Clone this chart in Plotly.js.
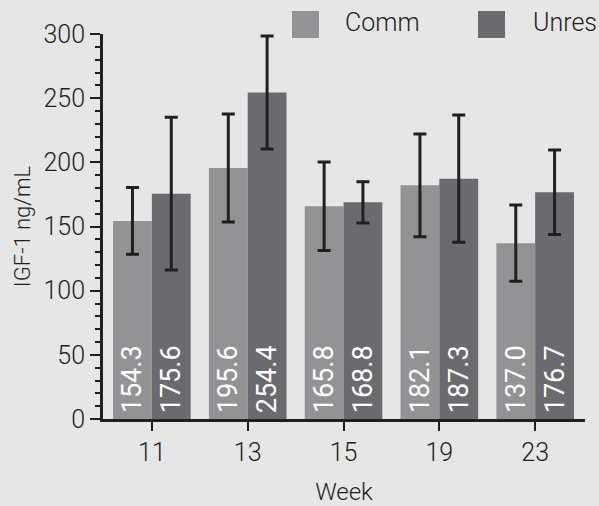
<!DOCTYPE html>
<html>
<head>
<meta charset="utf-8">
<script src="https://cdn.plot.ly/plotly-3.0.1.min.js"></script>
<style>html,body{margin:0;padding:0;background:#e6e6e6;}#chart{width:599px;height:506px;}</style>
</head>
<body>
<div id="chart"></div>
<script>
const weeks = ['11', '13', '15', '19', '23'];
const commValues = [154.3, 195.6, 165.8, 182.1, 137.0];
const commErrors = [26, 42, 34.5, 40, 29.7];
const unresValues = [175.6, 254.4, 168.8, 187.3, 176.7];
const unresErrors = [59.5, 44, 16, 49.5, 33];
const seriesNames = ['Comm', 'Unres'];

const font = 'Roboto, "Liberation Sans", Arial, sans-serif';
const ink = '#231f20';
const colors = ['#939396', '#6b6b6f'];

function barTrace(name, vals, errs, color) {
  return {
    type: 'bar', name: name, x: weeks, y: vals,
    marker: {color: color, line: {width: 0}},
    error_y: {type: 'data', array: errs, visible: true, color: ink, thickness: 3, width: 6.5},
    text: vals.map(v => '\u200A' + v.toFixed(1)),
    textposition: 'inside', insidetextanchor: 'start', textangle: -90,
    textfont: {family: font, size: 27, weight: 400, color: '#ffffff'},
    constraintext: 'none', cliponaxis: false,
    hoverinfo: 'x+y'
  };
}

const data = [
  barTrace(seriesNames[0], commValues, commErrors, colors[0]),
  barTrace(seriesNames[1], unresValues, unresErrors, colors[1])
];

const layout = {
  width: 599, height: 506,
  margin: {l: 103, r: 14, t: 34, b: 87, pad: 0},
  paper_bgcolor: '#e6e6e6', plot_bgcolor: '#e6e6e6',
  font: {family: font, color: ink, weight: 300},
  barmode: 'group', bargap: 0.19, bargroupgap: 0,
  showlegend: false,
  xaxis: {
    type: 'category', range: [-0.51, 4.52],
    showline: true, linecolor: ink, linewidth: 3,
    ticks: 'outside', ticklen: 9, tickwidth: 2, tickcolor: ink,
    tickfont: {size: 25, color: ink, weight: 300},
    showgrid: false, zeroline: false,
    title: {text: 'Week', font: {size: 24, color: ink, weight: 300}, standoff: 22}
  },
  yaxis: {
    range: [0, 300], tickvals: [0, 50, 100, 150, 200, 250, 300],
    showline: true, linecolor: ink, linewidth: 3,
    ticks: 'outside', ticklen: 10, tickwidth: 2, tickcolor: ink,
    minor: {dtick: 10, ticks: 'outside', ticklen: 5, tickwidth: 2, tickcolor: ink, showgrid: false},
    tickfont: {size: 25, color: ink, weight: 300},
    showgrid: false, zeroline: false,
    title: {text: 'IGF-1 ng/mL', font: {size: 22, color: ink, weight: 300}, standoff: 7}
  },
  shapes: [
    {type: 'rect', xref: 'paper', yref: 'paper', x0: 0.3921, x1: 0.4481, y0: 0.9896, y1: 1.0597, fillcolor: colors[0], line: {width: 0}},
    {type: 'rect', xref: 'paper', yref: 'paper', x0: 0.778, x1: 0.834, y0: 0.9896, y1: 1.0597, fillcolor: colors[1], line: {width: 0}}
  ],
  annotations: [
    {xref: 'paper', yref: 'paper', x: 0.498, y: 1.031, xanchor: 'left', yanchor: 'middle', text: seriesNames[0], showarrow: false, font: {size: 25, color: ink, weight: 300}},
    {xref: 'paper', yref: 'paper', x: 0.888, y: 1.031, xanchor: 'left', yanchor: 'middle', text: seriesNames[1], showarrow: false, font: {size: 25, color: ink, weight: 300}},
    {xref: 'paper', yref: 'paper', x: -0.172, y: -0.21, xanchor: 'left', yanchor: 'top', text: 'IGF-1', showarrow: false, font: {size: 24, color: ink, weight: 300}}
  ]
};

Plotly.newPlot('chart', data, layout, {displayModeBar: false, staticPlot: true});
</script>
</body>
</html>
